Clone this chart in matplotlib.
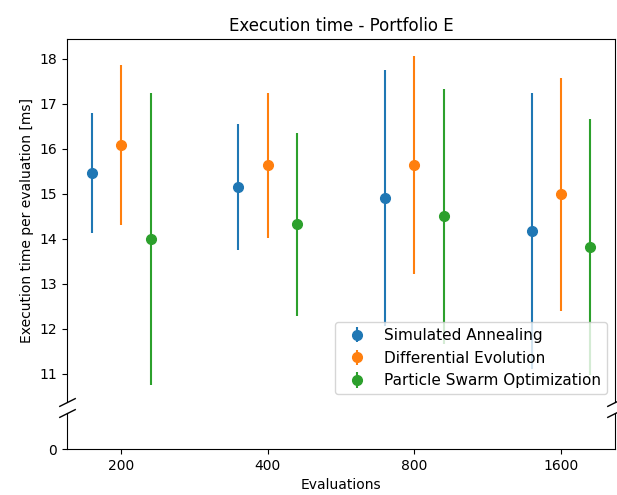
import matplotlib
matplotlib.use("Agg")
import matplotlib.pyplot as plt
import numpy as np

evaluations = ["200", "400", "800", "1600"]
algorithms = ["Simulated Annealing", "Differential Evolution", "Particle Swarm Optimization"]
colors = ["#1f77b4", "#ff7f0e", "#2ca02c"]

# mean and symmetric error (ms) per algorithm, per evaluation budget
means = {
    "Simulated Annealing": [15.46, 15.16, 14.90, 14.17],
    "Differential Evolution": [16.09, 15.63, 15.64, 14.99],
    "Particle Swarm Optimization": [13.99, 14.32, 14.50, 13.82],
}
errors = {
    "Simulated Annealing": [1.33, 1.40, 2.85, 3.07],
    "Differential Evolution": [1.78, 1.61, 2.42, 2.59],
    "Particle Swarm Optimization": [3.25, 2.03, 2.83, 2.85],
}
offsets = [-0.2, 0.0, 0.2]

fig = plt.figure(figsize=(6.17, 4.95), dpi=100)
ax_top = fig.add_axes([0.1086, 0.1879, 0.8882, 0.7333])
ax_bot = fig.add_axes([0.1086, 0.0929, 0.8882, 0.0728], sharex=ax_top)

x = np.arange(len(evaluations))
for name, col, off in zip(algorithms, colors, offsets):
    for ax in (ax_top, ax_bot):
        ax.errorbar(x + off, means[name], yerr=errors[name], fmt="o",
                    color=col, label=name, lw=1.5, ms=7)

ax_top.set_ylim(10.37, 18.44)
ax_bot.set_ylim(0, 1)
ax_bot.set_yticks([0])
ax_top.set_xlim(-0.37, 3.37)

ax_top.spines["bottom"].set_visible(False)
ax_bot.spines["top"].set_visible(False)
ax_top.tick_params(axis="x", bottom=False, labelbottom=False)
ax_bot.set_xticks(x)
ax_bot.set_xticklabels(evaluations)

# diagonal break marks
d = 0.5
kw = dict(marker=[(-1, -d), (1, d)], markersize=12, linestyle="none",
          color="k", mec="k", mew=1, clip_on=False)
ax_top.plot([0, 1], [0, 0], transform=ax_top.transAxes, **kw)
ax_bot.plot([0, 1], [1, 1], transform=ax_bot.transAxes, **kw)

ax_top.set_title("Execution time - Portfolio E")
ax_top.set_ylabel("Execution time per evaluation [ms]")
ax_bot.set_xlabel("Evaluations")
ax_top.legend(loc="lower right", fontsize=11)

fig.savefig("out.png", dpi=100)
